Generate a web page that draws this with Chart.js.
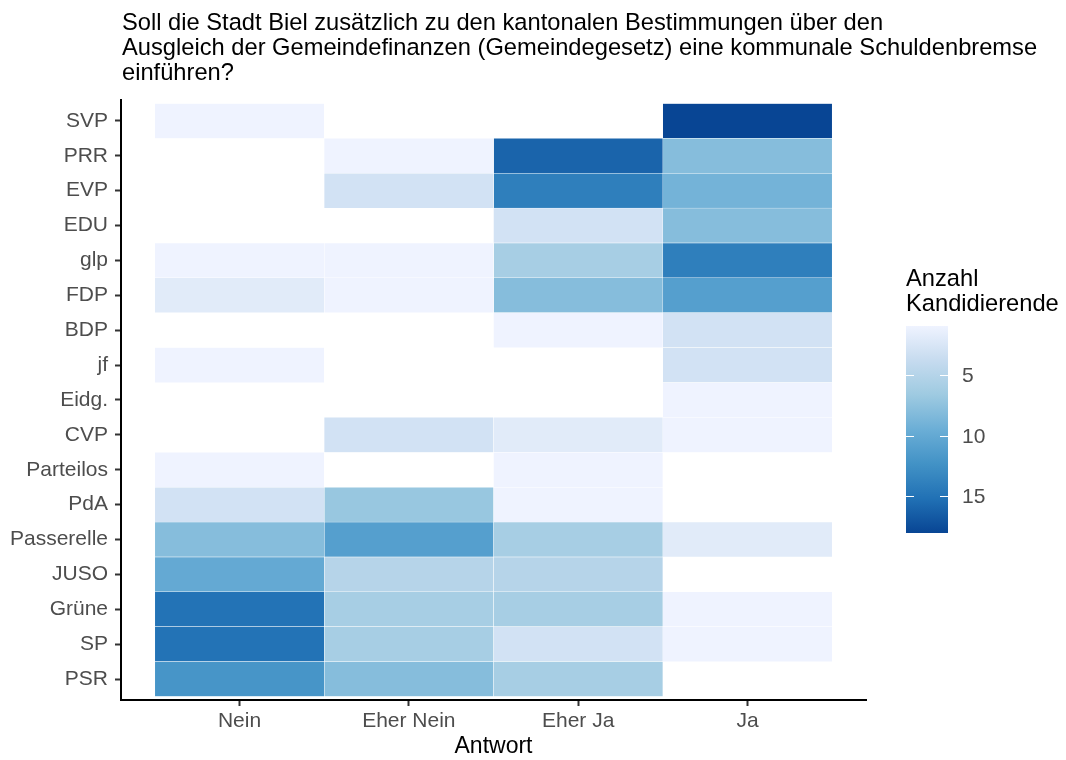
<!DOCTYPE html>
<html>
<head>
<meta charset="utf-8">
<script src="https://cdn.jsdelivr.net/npm/chart.js@4.4.0/dist/chart.umd.min.js"></script>
<style>
  body { margin: 0; background: #fff; }
</style>
</head>
<body>
<canvas id="chart" width="1066" height="760"></canvas>
<script>
// parties, top row first
const parties = ["SVP", "PRR", "EVP", "EDU", "glp", "FDP", "BDP", "jf", "Eidg.", "CVP",
    "Parteilos", "PdA", "Passerelle", "JUSO", "Grüne", "SP", "PSR"];

// answers on the x axis
const answers = ["Nein", "Eher Nein", "Eher Ja", "Ja"];

// number of candidates per party and answer (null = no tile)
const nein     = [1, null, null, null, 1, 2, null, 1, null, null, 1, 3, 8, 10, 15, 15, 12];
const eherNein = [null, 1, 3, null, 1, 1, null, null, null, 3, null, 7, 11, 5, 6, 6, 8];
const eherJa   = [null, 16, 14, 3, 6, 8, 1, null, null, 2, 1, 1, 6, 5, 6, 3, 6];
const ja       = [18, 8, 9, 8, 14, 11, 3, 3, 1, 1, null, null, 2, null, 1, 1, null];

// colour bar
const legendTicks = [5, 10, 15];
const colorMin = 1;
const colorMax = 18;
const blues = ["#EFF3FF", "#C6DBEF", "#9ECAE1", "#6BAED6", "#4292C6", "#2171B5", "#084594"];

const titleLines = [
    "Soll die Stadt Biel zusätzlich zu den kantonalen Bestimmungen über den",
    "Ausgleich der Gemeindefinanzen (Gemeindegesetz) eine kommunale Schuldenbremse",
    "einführen?"
];

const FONT = "'Liberation Sans', Arial, Helvetica, sans-serif";

function hexToRgb(h) {
    return [parseInt(h.slice(1, 3), 16), parseInt(h.slice(3, 5), 16), parseInt(h.slice(5, 7), 16)];
}

// map a count to the blues gradient
function fillFor(n) {
    let t = (n - colorMin) / (colorMax - colorMin);
    t = Math.max(0, Math.min(1, t));
    const pos = t * (blues.length - 1);
    const i = Math.min(Math.floor(pos), blues.length - 2);
    const f = pos - i;
    const a = hexToRgb(blues[i]);
    const b = hexToRgb(blues[i + 1]);
    const c = a.map((v, k) => Math.round(v + (b[k] - v) * f));
    return "rgb(" + c.join(",") + ")";
}

// one dataset per answer column, floating bars span the column
function makeDataset(values, col) {
    const data = [];
    values.forEach((n, row) => {
        if (n === null) return;
        data.push({ x: [col - 0.5, col + 0.5], y: row + 1, n: n });
    });
    return {
        label: answers[col - 1],
        data: data,
        backgroundColor: (ctx) => ctx.raw ? fillFor(ctx.raw.n) : "#fff",
        borderColor: "#ffffff",
        borderWidth: 0.5,
        borderSkipped: false,
        grouped: false,
        barPercentage: 1,
        categoryPercentage: 1
    };
}

// title above the panel, left aligned with it
const titlePlugin = {
    id: "titleText",
    afterDraw(chart) {
        const ctx = chart.ctx;
        ctx.save();
        ctx.fillStyle = "#000";
        ctx.font = "23.7px " + FONT;
        ctx.textAlign = "left";
        ctx.textBaseline = "alphabetic";
        titleLines.forEach((line, i) => {
            ctx.fillText(line, chart.chartArea.left + 1, 30 + i * 25);
        });
        ctx.restore();
    }
};

// continuous colour bar legend
const colorbarPlugin = {
    id: "colorbar",
    afterDraw(chart) {
        const ctx = chart.ctx;
        const x = 906, w = 42, top = 326, bottom = 533;
        const yFor = (v) => top + (v - colorMin) / (colorMax - colorMin) * (bottom - top);

        ctx.save();
        const grad = ctx.createLinearGradient(0, top, 0, bottom);
        blues.forEach((c, i) => grad.addColorStop(i / (blues.length - 1), c));
        ctx.fillStyle = grad;
        ctx.fillRect(x, top, w, bottom - top);

        ctx.strokeStyle = "#fff";
        ctx.lineWidth = 1;
        ctx.fillStyle = "#4D4D4D";
        ctx.font = "21px " + FONT;
        ctx.textAlign = "left";
        ctx.textBaseline = "middle";
        for (const t of legendTicks) {
            const y = Math.round(yFor(t)) + 0.5;
            ctx.beginPath();
            ctx.moveTo(x, y); ctx.lineTo(x + 8, y);
            ctx.moveTo(x + w - 8, y); ctx.lineTo(x + w, y);
            ctx.stroke();
            ctx.fillText(String(t), x + 56, y + 1);
        }

        ctx.fillStyle = "#000";
        ctx.font = "23.7px " + FONT;
        ctx.textBaseline = "alphabetic";
        ctx.fillText("Anzahl", x, 286);
        ctx.fillText("Kandidierende", x, 311);
        ctx.restore();
    }
};

new Chart(document.getElementById("chart"), {
    type: "bar",
    data: {
        datasets: [
            makeDataset(nein, 1),
            makeDataset(eherNein, 2),
            makeDataset(eherJa, 3),
            makeDataset(ja, 4)
        ]
    },
    options: {
        indexAxis: "y",
        responsive: false,
        animation: false,
        devicePixelRatio: 1,
        layout: { padding: { top: 100, right: 200, bottom: 0, left: 0 } },
        plugins: {
            legend: { display: false },
            tooltip: { enabled: false }
        },
        scales: {
            x: {
                type: "linear",
                min: 0.3,
                max: 4.7,
                offset: false,
                afterBuildTicks: (scale) => {
                    scale.ticks = answers.map((a, i) => ({ value: i + 1 }));
                },
                afterFit: (scale) => { scale.height = 60; },
                ticks: {
                    callback: (v) => answers[v - 1],
                    color: "#4D4D4D",
                    font: { family: FONT, size: 21 },
                    padding: 3,
                    autoSkip: false,
                    maxRotation: 0
                },
                grid: {
                    offset: false,
                    drawOnChartArea: false,
                    drawTicks: true,
                    tickLength: 6,
                    tickWidth: 2,
                    tickColor: "#333"
                },
                border: { display: true, color: "#000", width: 2 },
                title: {
                    display: true,
                    text: "Antwort",
                    color: "#000",
                    font: { family: FONT, size: 23 },
                    padding: { top: 0, bottom: 0 }
                }
            },
            y: {
                type: "linear",
                min: 0.4,
                max: 17.6,
                reverse: true,
                offset: false,
                afterBuildTicks: (scale) => {
                    scale.ticks = parties.map((p, i) => ({ value: i + 1 }));
                },
                afterFit: (scale) => { scale.width = 121; },
                ticks: {
                    callback: (v) => parties[v - 1],
                    color: "#4D4D4D",
                    font: { family: FONT, size: 21 },
                    padding: 7,
                    autoSkip: false
                },
                grid: {
                    offset: false,
                    drawOnChartArea: false,
                    drawTicks: true,
                    tickLength: 6,
                    tickWidth: 2,
                    tickColor: "#333"
                },
                border: { display: true, color: "#000", width: 2 }
            }
        }
    },
    plugins: [titlePlugin, colorbarPlugin]
});
</script>
</body>
</html>
